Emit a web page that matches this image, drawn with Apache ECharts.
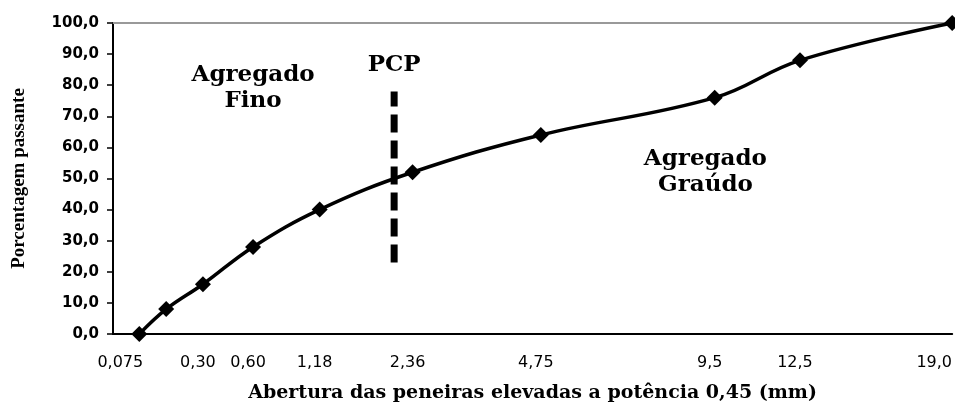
<!DOCTYPE html>
<html>
<head>
<meta charset="utf-8">
<script src="https://cdn.jsdelivr.net/npm/echarts@6/dist/echarts.min.js"></script>
<style>
html, body { margin: 0; padding: 0; background: #fff; }
#chart { width: 955px; height: 414px; }
</style>
</head>
<body>
<div id="chart"></div>
<script>
// peneiras (mm) e porcentagem passante
var peneiras = [0.075, 0.15, 0.30, 0.60, 1.18, 2.36, 4.75, 9.5, 12.5, 19.0];
var passante = [0, 8, 16, 28, 40, 52, 64, 76, 88, 100];
var rotulosX = [0.075, 0.30, 0.60, 1.18, 2.36, 4.75, 9.5, 12.5, 19.0];
var pcpAbertura = 2.09;
var pcpFaixa = [23, 78];
var anotTexto = ["Agregado\nFino", "PCP", "Agregado\nGraúdo"];
var anotAbertura = [0.60, 2.09, 9.2];
var anotY = [79, 86.5, 52];

var expoente = 0.45;
function pot(d) { return Math.pow(d, expoente); }
function virgula(v, casas) { return v.toFixed(casas).replace(".", ","); }

var dadosCurva = peneiras.map(function (d, i) { return [pot(d), passante[i]]; });
var dadosPcp = pcpFaixa.map(function (y) { return [pot(pcpAbertura), y]; });
var dadosAnot = anotTexto.map(function (t, i) { return [pot(anotAbertura[i]), anotY[i], t]; });

var rotuloTxt = {};
rotulosX.forEach(function (d) {
	rotuloTxt[pot(d).toFixed(6)] = d === 0.075 ? "0,075" : (d < 5 ? virgula(d, 2) : virgula(d, 1));
});

var myChart = echarts.init(document.getElementById("chart"));
var option = {
	animation: false,
	grid: { left: 113, right: 2, top: 23, bottom: 80 },
	xAxis: [{
		type: "value",
		min: 0.2,
		max: pot(19.0),
		name: "Abertura das peneiras elevadas a potência 0,45 (mm)",
		nameLocation: "middle",
		nameGap: 50,
		nameTextStyle: { fontFamily: "DejaVu Serif", fontWeight: "bold", fontSize: 19, color: "#000" },
		axisLine: { show: true, onZero: false, lineStyle: { color: "#000", width: 2 } },
		axisTick: { show: false },
		splitLine: { show: false },
		axisLabel: {
			customValues: rotulosX.map(pot),
			margin: 21,
			fontFamily: "DejaVu Sans",
			fontSize: 16,
			color: "#000",
			formatter: function (v) {
				var t = rotuloTxt[v.toFixed(6)] || "";
				if (t === "0,075") return "{a|" + t + "}";
				if (t === "19,0") return "{b|" + t + "}";
				return "{c|" + t + "}";
			},
			rich: {
				a: { padding: [0, 38, 0, 0], fontFamily: "DejaVu Sans", fontSize: 16, color: "#000" },
				b: { padding: [0, 36, 0, 0], fontFamily: "DejaVu Sans", fontSize: 16, color: "#000" },
				c: { padding: [0, 10, 0, 0], fontFamily: "DejaVu Sans", fontSize: 16, color: "#000" }
			}
		}
	}, {
		type: "value",
		position: "top",
		min: 0.2,
		max: pot(19.0),
		axisLine: { show: true, onZero: false, lineStyle: { color: "#999", width: 2 } },
		axisTick: { show: false },
		axisLabel: { show: false },
		splitLine: { show: false }
	}],
	yAxis: {
		type: "value",
		min: 0,
		max: 100,
		interval: 10,
		name: "Porcentagem passante",
		nameLocation: "middle",
		nameGap: 84,
		nameTextStyle: { fontFamily: "Liberation Serif", fontWeight: "bold", fontSize: 19, color: "#000" },
		axisLine: { show: true, lineStyle: { color: "#000", width: 2 } },
		axisTick: { show: true, length: 6, lineStyle: { color: "#000", width: 1.5 } },
		splitLine: { show: false },
		axisLabel: {
			margin: 14,
			fontFamily: "DejaVu Sans",
			fontWeight: "bold",
			fontSize: 15,
			color: "#000",
			formatter: function (v) { return virgula(v, 1); }
		}
	},
	series: [{
		type: "line",
		data: dadosCurva,
		smooth: 0.4,
		clip: false,
		symbol: "diamond",
		symbolSize: 16,
		itemStyle: { color: "#000" },
		lineStyle: { color: "#000", width: 3.5 },
		z: 3
	}, {
		type: "line",
		data: dadosPcp,
		symbol: "none",
		lineStyle: { color: "#000", width: 7, type: [18, 8] },
		z: 2
	}, {
		type: "scatter",
		data: dadosAnot,
		symbolSize: 0,
		silent: true,
		itemStyle: { opacity: 1 },
		label: {
			show: true,
			position: "inside",
			formatter: function (p) { return p.data[2]; },
			fontFamily: "DejaVu Serif",
			fontWeight: "bold",
			fontSize: 23,
			lineHeight: 26,
			align: "center",
			color: "#000"
		}
	}]
};
myChart.setOption(option);
</script>
</body>
</html>
